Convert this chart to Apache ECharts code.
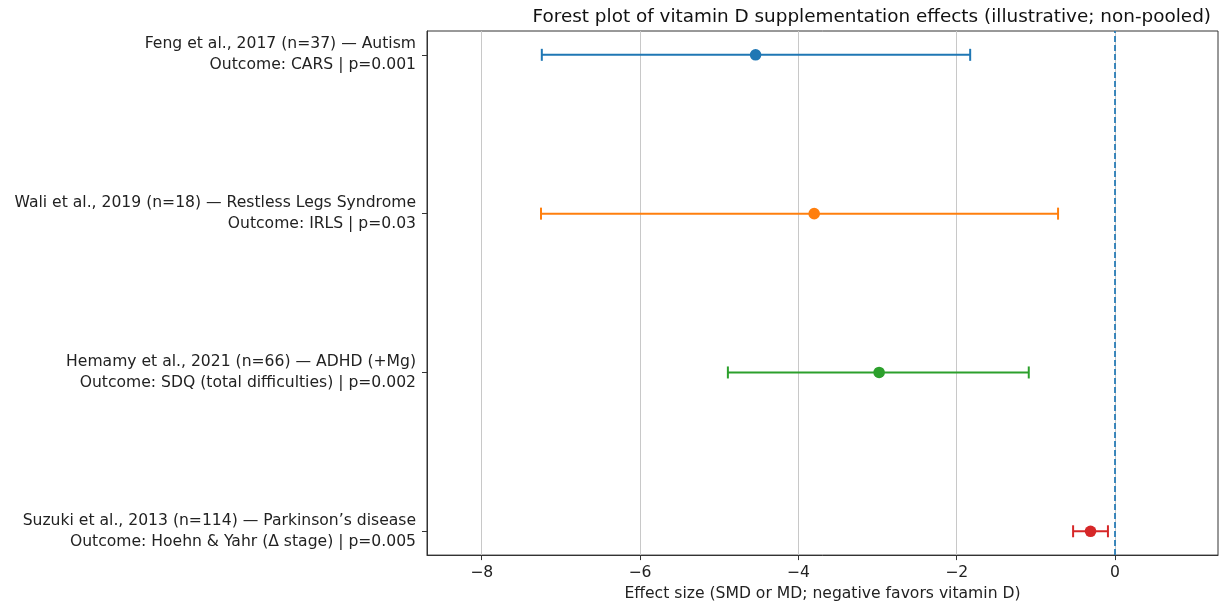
<!DOCTYPE html>
<html>
<head>
<meta charset="utf-8">
<script src="https://cdn.jsdelivr.net/npm/echarts@6/dist/echarts.min.js"></script>
<style>
    html, body { margin: 0; padding: 0; background: #fff; }
    #chart { width: 1222px; height: 607px; }
</style>
</head>
<body>
<div id="chart"></div>
<script>
    // studies, top to bottom
    var studies = [
        'Feng et al., 2017 (n=37) — Autism',
        'Wali et al., 2019 (n=18) — Restless Legs Syndrome',
        'Hemamy et al., 2021 (n=66) — ADHD (+Mg)',
        'Suzuki et al., 2013 (n=114) — Parkinson\u2019s disease'
    ];
    var outcomes = [
        'Outcome: CARS | p=0.001',
        'Outcome: IRLS | p=0.03',
        'Outcome: SDQ (total difficulties) | p=0.002',
        'Outcome: Hoehn & Yahr (\u0394 stage) | p=0.005'
    ];
    var yPos = [3, 2, 1, 0];
    var effect = [-4.54, -3.80, -2.98, -0.31];
    var ciLow = [-7.24, -7.25, -4.89, -0.53];
    var ciHigh = [-1.83, -0.72, -1.09, -0.09];
    var xTicks = [-8, -6, -4, -2, 0];
    var colors = ['#1f77b4', '#ff7f0e', '#2ca02c', '#d62728'];

    var rows = [];
    for (var i = 0; i < studies.length; i++) {
        rows.push([effect[i], yPos[i], ciLow[i], ciHigh[i], i]);
    }

    var chart = echarts.init(document.getElementById('chart'));
    var font = 'DejaVu Sans';

    var option = {
        animation: false,
        title: {
            text: 'Forest plot of vitamin D supplementation effects (illustrative; non-pooled)',
            right: 6,
            top: 3,
            textStyle: { fontFamily: font, fontSize: 18.4, fontWeight: 'normal', color: '#111' }
        },
        grid: {
            left: 427, right: 4, top: 31, bottom: 50,
            show: true, borderColor: '#333', borderWidth: 1, backgroundColor: 'transparent'
        },
        xAxis: {
            type: 'value',
            min: -8.69,
            max: 1.3,
            name: 'Effect size (SMD or MD; negative favors vitamin D)',
            nameLocation: 'middle',
            nameGap: 29,
            nameTextStyle: { fontFamily: font, fontSize: 15.6, color: '#222' },
            axisLine: { show: true, onZero: false, lineStyle: { color: '#333' } },
            axisTick: { show: true, length: 5, customValues: xTicks, lineStyle: { color: '#333' } },
            axisLabel: {
                customValues: xTicks,
                fontFamily: font, fontSize: 15.6, color: '#222', margin: 10,
                formatter: function (v) { return v < 0 ? '\u2212' + Math.abs(v) : String(v); }
            },
            splitLine: { show: true, lineStyle: { color: '#c8c8c8', width: 1 } }
        },
        yAxis: {
            type: 'value',
            min: -0.15,
            max: 3.15,
            axisLine: { show: true, onZero: false, lineStyle: { color: '#333' } },
            axisTick: { show: true, length: 5, customValues: yPos, lineStyle: { color: '#333' } },
            axisLabel: {
                customValues: yPos,
                fontFamily: font, fontSize: 15.6, color: '#222', lineHeight: 21, margin: 11,
                align: 'right',
                formatter: function (v) {
                    var k = yPos.indexOf(Math.round(v));
                    return k < 0 ? '' : studies[k] + '\n' + outcomes[k];
                }
            },
            splitLine: { show: false }
        },
        series: [
            {
                type: 'custom',
                data: rows,
                encode: { x: [0, 2, 3], y: 1 },
                renderItem: function (params, api) {
                    var c = colors[api.value(4)];
                    var y = api.value(1);
                    var pL = api.coord([api.value(2), y]);
                    var pR = api.coord([api.value(3), y]);
                    var pM = api.coord([api.value(0), y]);
                    var cap = 6;
                    var st = { stroke: c, lineWidth: 2 };
                    return {
                        type: 'group',
                        children: [
                            { type: 'line', shape: { x1: pL[0], y1: pL[1], x2: pR[0], y2: pR[1] }, style: st },
                            { type: 'line', shape: { x1: pL[0], y1: pL[1] - cap, x2: pL[0], y2: pL[1] + cap }, style: st },
                            { type: 'line', shape: { x1: pR[0], y1: pR[1] - cap, x2: pR[0], y2: pR[1] + cap }, style: st },
                            { type: 'circle', shape: { cx: pM[0], cy: pM[1], r: 5.8 }, style: { fill: c } }
                        ]
                    };
                },
                markLine: {
                    silent: true,
                    symbol: ['none', 'none'],
                    label: { show: false },
                    lineStyle: { color: '#1f77b4', type: [6, 3], width: 1.7 },
                    data: [{ xAxis: 0 }]
                }
            }
        ]
    };
    chart.setOption(option);
</script>
</body>
</html>
